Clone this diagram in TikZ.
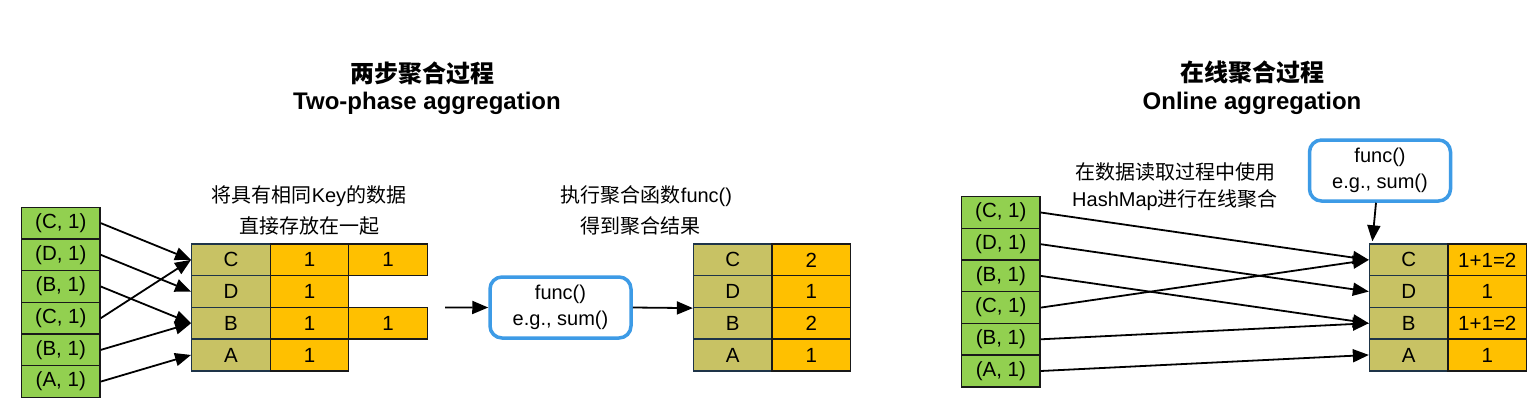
\documentclass[tikz,border=0pt]{standalone}
\usepackage{fontspec}
\setmainfont{Liberation Sans}
\newfontfamily\cjk{Noto Sans CJK SC}
\usetikzlibrary{arrows.meta,positioning}
\definecolor{kvgreen}{HTML}{92D050}
\definecolor{keyolive}{HTML}{C8C264}
\definecolor{valgold}{HTML}{FFC000}
\definecolor{funcblue}{HTML}{3D9BE6}
\definecolor{keyline}{HTML}{1E3448}
\tikzset{
  txt/.style={font=\fontsize{20}{26}\selectfont, inner sep=0pt, align=center},
  ttl/.style={font=\fontsize{24}{28}\selectfont\bfseries, inner sep=0pt},
  cellbase/.style={line width=1.4pt, minimum width=78.5pt, minimum height=31.7pt, inner sep=0pt, font=\fontsize{20.5}{24}\selectfont},
  kvcell/.style={cellbase, draw=black!90, fill=kvgreen},
  keycell/.style={cellbase, draw=keyline, fill=keyolive},
  valcell/.style={cellbase, draw=black!90, fill=valgold},
  funcbox/.style={draw=funcblue, line width=3.5pt, rounded corners=12pt, fill=white, minimum width=141pt, minimum height=61pt, inner sep=0pt, align=center, font=\fontsize{20}{26}\selectfont},
  arr/.style={line width=1.8pt, -{Triangle[length=16pt,width=13pt]}}
}
\begin{document}
\begin{tikzpicture}[x=1pt,y=-1pt]
\useasboundingbox[fill=white] (0,0) rectangle (1536,415);

% ---------- titles ----------
\node[ttl] (t1a) at (422,73) {\cjk 两步聚合过程};
\node[ttl] (t1b) at (427,103) {Two-phase aggregation};
\node[ttl] (t2a) at (1252,72) {\cjk 在线聚合过程};
\node[ttl] (t2b) at (1252,103) {Online aggregation};

% ---------- left: input list ----------
\node[kvcell] (L1) at (60.8,223.1) {(C, 1)};
\node[kvcell] (L2) at (60.8,254.8) {(D, 1)};
\node[kvcell] (L3) at (60.8,286.5) {(B, 1)};
\node[kvcell] (L4) at (60.8,318.2) {(C, 1)};
\node[kvcell] (L5) at (60.8,349.9) {(B, 1)};
\node[kvcell] (L6) at (60.8,381.6) {(A, 1)};

% ---------- left: grouped table ----------
\node[txt] (lab1a) at (309,196.5) {{\cjk 将具有相同}Key{\cjk 的数据}};
\node[txt] (lab1b) at (309,226) {\cjk 直接存放在一起};

\node[keycell] (GC) at (231,259.85) {C};
\node[valcell] (GC1) at (309.5,259.85) {1};
\node[valcell] (GC2) at (388,259.85) {1};
\node[keycell] (GD) at (231,291.55) {D};
\node[valcell] (GD1) at (309.5,291.55) {1};
\node[keycell] (GB) at (231,323.25) {B};
\node[valcell] (GB1) at (309.5,323.25) {1};
\node[valcell] (GB2) at (388,323.25) {1};
\node[keycell] (GA) at (231,354.95) {A};
\node[valcell] (GA1) at (309.5,354.95) {1};

\draw[arr] (L1.east) -- (GC.west);
\draw[arr] (L2.east) -- (GD.west);
\draw[arr] (L3.east) -- (GB.west);
\draw[arr] (L4.east) -- (GC.west);
\draw[arr] (L5.east) -- (GB.west);
\draw[arr] (L6.east) -- (GA.west);

% ---------- left: function ----------
\node[funcbox] (F1) at (560.5,307.5) {func()\\e.g., sum()};
\coordinate (a0) at (445,307.4);
\draw[arr] (a0) -- (F1.west);

% ---------- left: result table ----------
\node[txt] (lab2a) at (646.5,196.5) {{\cjk 执行聚合函数}func()};
\node[txt] (lab2b) at (640,225.5) {\cjk 得到聚合结果};

\node[keycell] (RC) at (732.8,259.85) {C};
\node[valcell] (RC1) at (811.3,259.85) {2};
\node[keycell] (RD) at (732.8,291.55) {D};
\node[valcell] (RD1) at (811.3,291.55) {1};
\node[keycell] (RB) at (732.8,323.25) {B};
\node[valcell] (RB1) at (811.3,323.25) {2};
\node[keycell] (RA) at (732.8,354.95) {A};
\node[valcell] (RA1) at (811.3,354.95) {1};

\draw[arr] (F1.east) -- (RD.south west);

% ---------- right: input list ----------
\node[kvcell] (M1) at (1000.8,212.5) {(C, 1)};
\node[kvcell] (M2) at (1000.8,244.2) {(D, 1)};
\node[kvcell] (M3) at (1000.8,275.9) {(B, 1)};
\node[kvcell] (M4) at (1000.8,307.6) {(C, 1)};
\node[kvcell] (M5) at (1000.8,339.3) {(B, 1)};
\node[kvcell] (M6) at (1000.8,371.0) {(A, 1)};

\node[txt] (lab3a) at (1175,171.5) {\cjk 在数据读取过程中使用};
\node[txt] (lab3b) at (1175,200) {HashMap{\cjk 进行在线聚合}};

% ---------- right: hashmap table ----------
\node[keycell] (HC) at (1408.8,259.85) {C};
\node[valcell] (HC1) at (1487.3,259.85) {1+1=2};
\node[keycell] (HD) at (1408.8,291.55) {D};
\node[valcell] (HD1) at (1487.3,291.55) {1};
\node[keycell] (HB) at (1408.8,323.25) {B};
\node[valcell] (HB1) at (1487.3,323.25) {1+1=2};
\node[keycell] (HA) at (1408.8,354.95) {A};
\node[valcell] (HA1) at (1487.3,354.95) {1};

\node[funcbox] (F2) at (1380,170.5) {func()\\e.g., sum()};
\draw[arr] ([xshift=-4pt]F2.south) -- ([xshift=3.5pt,yshift=2pt]HC.north west);

\draw[arr] (M1.east) -- (HC.west);
\draw[arr] (M2.east) -- (HD.west);
\draw[arr] (M3.east) -- (HB.west);
\draw[arr] (M4.east) -- (HC.west);
\draw[arr] (M5.east) -- (HB.west);
\draw[arr] (M6.east) -- (HA.west);
\end{tikzpicture}
\end{document}
